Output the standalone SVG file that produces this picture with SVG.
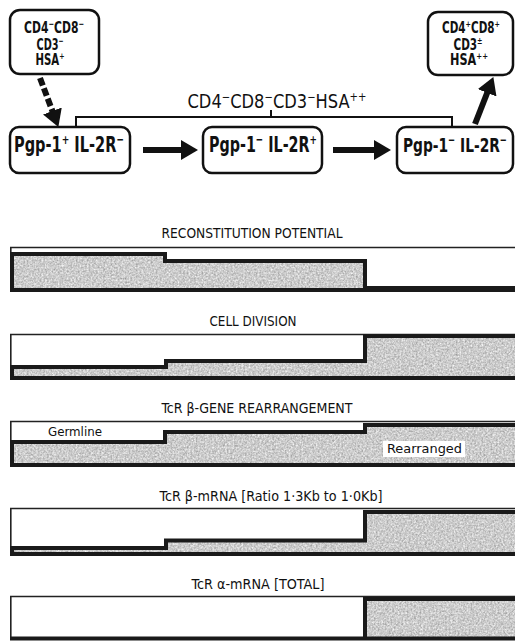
<svg xmlns="http://www.w3.org/2000/svg" width="515" height="641" viewBox="0 0 515 641">
<style>
.box{fill:#fff;stroke:#111;stroke-width:2.5}
.nt{font-family:"DejaVu Sans Condensed","DejaVu Sans",sans-serif;font-weight:bold;fill:#111}
.lab{font-family:"DejaVu Sans Condensed","DejaVu Sans",sans-serif;fill:#111}
.sup{font-size:0.62em}
.arr{stroke:#111;stroke-width:6;fill:none}
.frame{stroke:#222;stroke-width:1.6;fill:none}
.step{fill:none;stroke:#1a1a1a;stroke-width:4;stroke-linejoin:miter}
.gray{fill:#c4c4c4;stroke:none}
.br{fill:none;stroke:#111;stroke-width:2}
</style>
<defs>
<marker id="ah" markerUnits="userSpaceOnUse" markerWidth="18" markerHeight="20" refX="2" refY="10" orient="auto">
<path d="M0,0 L17,10 L0,20 z" fill="#111"/>
</marker>
<filter id="grain" x="0" y="0" width="100%" height="100%" color-interpolation-filters="sRGB">
<feTurbulence type="fractalNoise" baseFrequency="0.55" numOctaves="3" seed="7" result="n"/>
<feColorMatrix in="n" type="saturate" values="0" result="g"/>
<feComponentTransfer in="g" result="m">
<feFuncR type="linear" slope="0.6" intercept="0.5"/>
<feFuncG type="linear" slope="0.6" intercept="0.5"/>
<feFuncB type="linear" slope="0.6" intercept="0.5"/>
<feFuncA type="table" tableValues="1 1"/>
</feComponentTransfer>
<feComposite in="m" in2="SourceGraphic" operator="in"/>
</filter>
</defs>
<rect width="515" height="641" fill="#fff"/>

<g id="connectors">
<line class="arr" x1="40" y1="78" x2="53.1" y2="112.9" stroke-dasharray="8 3" marker-end="url(#ah)"/>
<line class="arr" x1="143" y1="150" x2="183" y2="150" marker-end="url(#ah)"/>
<line class="arr" x1="333" y1="150" x2="376" y2="150" marker-end="url(#ah)"/>
<line class="arr" x1="475" y1="124" x2="487.9" y2="91" marker-end="url(#ah)"/>
<polyline class="br" points="76,126 76,117 452,117 452,126"/>
<line class="br" x1="271" y1="110" x2="271" y2="117"/>
</g>

<g id="node-cd4cd8neg">
<rect class="box" x="10" y="10" width="89" height="64" rx="10"/>
<text class="nt" font-size="15" x="54" y="33" text-anchor="middle" textLength="60" lengthAdjust="spacingAndGlyphs">CD4<tspan class="sup" dy="-6">−</tspan><tspan dy="6">CD8</tspan><tspan class="sup" dy="-6">−</tspan></text>
<text class="nt" font-size="15" x="50" y="50" text-anchor="middle" textLength="27" lengthAdjust="spacingAndGlyphs">CD3<tspan class="sup" dy="-6">−</tspan></text>
<text class="nt" font-size="15" x="50" y="65" text-anchor="middle" textLength="29" lengthAdjust="spacingAndGlyphs">HSA<tspan class="sup" dy="-6">+</tspan></text>
</g>

<g id="node-cd4cd8pos">
<rect class="box" x="428" y="12" width="85" height="63" rx="10"/>
<text class="nt" font-size="15" x="471" y="33" text-anchor="middle" textLength="58" lengthAdjust="spacingAndGlyphs">CD4<tspan class="sup" dy="-6">+</tspan><tspan dy="6">CD8</tspan><tspan class="sup" dy="-6">+</tspan></text>
<text class="nt" font-size="15" x="468" y="50" text-anchor="middle" textLength="29" lengthAdjust="spacingAndGlyphs">CD3<tspan class="sup" dy="-6">±</tspan></text>
<text class="nt" font-size="15" x="469" y="65" text-anchor="middle" textLength="38" lengthAdjust="spacingAndGlyphs">HSA<tspan class="sup" dy="-6">++</tspan></text>
</g>

<g id="label-dn">
<text class="lab" font-size="19" x="277" y="108" text-anchor="middle" textLength="179" lengthAdjust="spacingAndGlyphs">CD4<tspan class="sup" dy="-7">−</tspan><tspan dy="7">CD8</tspan><tspan class="sup" dy="-7">−</tspan><tspan dy="7">CD3</tspan><tspan class="sup" dy="-7">−</tspan><tspan dy="7">HSA</tspan><tspan class="sup" dy="-7">++</tspan></text>
</g>

<g id="node-pgp1pos">
<rect class="box" x="10" y="127" width="120" height="46" rx="9"/>
<text class="nt" font-size="21" x="69" y="152" text-anchor="middle" textLength="110" lengthAdjust="spacingAndGlyphs">Pgp-1<tspan class="sup" dy="-8">+</tspan><tspan dy="8"> IL-2R</tspan><tspan class="sup" dy="-8">−</tspan></text>
</g>

<g id="node-il2rpos">
<rect class="box" x="203" y="127" width="119" height="46" rx="9"/>
<text class="nt" font-size="21" x="263" y="152" text-anchor="middle" textLength="108" lengthAdjust="spacingAndGlyphs">Pgp-1<tspan class="sup" dy="-8">−</tspan><tspan dy="8"> IL-2R</tspan><tspan class="sup" dy="-8">+</tspan></text>
</g>

<g id="node-il2rneg">
<rect class="box" x="397" y="127" width="116" height="46" rx="9"/>
<text class="nt" font-size="20" x="455" y="152" text-anchor="middle" textLength="104" lengthAdjust="spacingAndGlyphs">Pgp-1<tspan class="sup" dy="-8">−</tspan><tspan dy="8"> IL-2R</tspan><tspan class="sup" dy="-8">−</tspan></text>
</g>

<g id="bar-reconstitution">
<text class="lab" font-size="14" x="252" y="238" text-anchor="middle" textLength="181" lengthAdjust="spacingAndGlyphs">RECONSTITUTION  POTENTIAL</text>
<polygon class="gray" filter="url(#grain)" points="12,254 165,254 165,261 365,261 365,288 515,288 515,290 12,290"/>
<path class="frame" d="M515,247.5 H10.8 V292"/>
<path class="step" d="M12,290 V254 H165 V261 H365 V288 H517 M10,290 H517"/>
</g>

<g id="bar-division">
<text class="lab" font-size="14" x="253" y="326" text-anchor="middle" textLength="87" lengthAdjust="spacingAndGlyphs">CELL DIVISION</text>
<polygon class="gray" filter="url(#grain)" points="12,367 166,367 166,361 365,361 365,336 515,336 515,378 12,378"/>
<path class="frame" d="M515,334.5 H10.8 V380"/>
<path class="step" d="M12,378 V367 H166 V361 H365 V336 H517 M10,378 H517"/>
</g>

<g id="bar-rearrangement">
<text class="lab" font-size="14" x="257" y="413" text-anchor="middle" textLength="191" lengthAdjust="spacingAndGlyphs">TcR β-GENE REARRANGEMENT</text>
<polygon class="gray" filter="url(#grain)" points="12,442 165,442 165,432 365,432 365,425 515,425 515,465 12,465"/>
<path class="frame" d="M515,421.5 H10.8 V467"/>
<path class="step" d="M12,465 V442 H165 V432 H365 V425 H517 M10,465 H517"/>
<text class="lab" font-size="13" x="48" y="436" textLength="54" lengthAdjust="spacingAndGlyphs">Germline</text>
<rect x="383" y="441" width="82" height="16" fill="#fff"/>
<text class="lab" font-size="13" x="387" y="453" textLength="75" lengthAdjust="spacingAndGlyphs">Rearranged</text>
</g>

<g id="bar-beta-mrna">
<text class="lab" font-size="14" x="271" y="501" text-anchor="middle" textLength="223" lengthAdjust="spacingAndGlyphs">TcR β-mRNA [Ratio 1·3Kb to 1·0Kb]</text>
<polygon class="gray" filter="url(#grain)" points="12,548 166,548 166,540.5 365,540.5 365,512 515,512 515,554 12,554"/>
<path class="frame" d="M515,508.5 H10.8 V556"/>
<path class="step" d="M12,554 V548 H166 V540.5 H365 V512 H517 M10,554 H517"/>
</g>

<g id="bar-alpha-mrna">
<text class="lab" font-size="14" x="258" y="589" text-anchor="middle" textLength="133" lengthAdjust="spacingAndGlyphs">TcR α-mRNA [TOTAL]</text>
<polygon class="gray" filter="url(#grain)" points="365,599 515,599 515,638.5 365,638.5"/>
<path class="frame" d="M515,596.5 H10.8 V640"/>
<path class="step" d="M365,638.5 V599 H517 M10,638.5 H517"/>
</g>
</svg>
